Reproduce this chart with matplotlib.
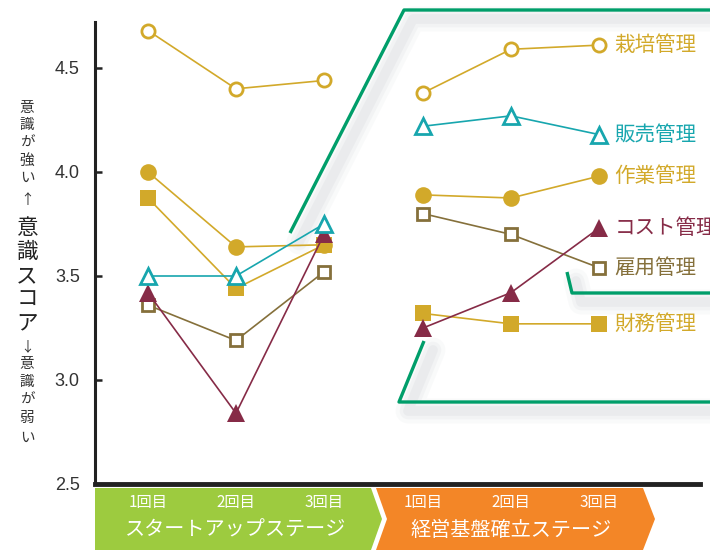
import matplotlib.pyplot as plt
import matplotlib.transforms as mtransforms
from matplotlib.patches import Polygon
import numpy as np

plt.rcParams['font.family'] = ['Noto Sans CJK JP', 'DejaVu Sans']

# data
rounds = ['1回目', '2回目', '3回目']
stages = ['スタートアップステージ', '経営基盤確立ステージ']
series = ['作業管理', '財務管理', '雇用管理', 'コスト管理', '販売管理', '栽培管理']
startup = {
    '栽培管理': [4.68, 4.40, 4.44],
    '販売管理': [3.50, 3.50, 3.75],
    '作業管理': [4.00, 3.64, 3.65],
    'コスト管理': [3.42, 2.84, 3.70],
    '雇用管理': [3.36, 3.19, 3.52],
    '財務管理': [3.875, 3.44, 3.65],
}
established = {
    '栽培管理': [4.38, 4.59, 4.61],
    '販売管理': [4.22, 4.27, 4.18],
    '作業管理': [3.89, 3.875, 3.98],
    'コスト管理': [3.25, 3.42, 3.73],
    '雇用管理': [3.80, 3.70, 3.54],
    '財務管理': [3.32, 3.27, 3.27],
}
yticks = [2.5, 3.0, 3.5, 4.0, 4.5]

gold = '#D2A92A'
teal = '#17A6AE'
maroon = '#862B47'
brown = '#85703B'
styles = {
    '栽培管理': dict(color=gold, marker='o', ms=9.5, mfc='white', mew=2.0),
    '販売管理': dict(color=teal, marker='^', ms=11, mfc='white', mew=2.0),
    '作業管理': dict(color=gold, marker='o', ms=12, mfc=gold, mew=0),
    'コスト管理': dict(color=maroon, marker='^', ms=13, mfc=maroon, mew=0),
    '雇用管理': dict(color=brown, marker='s', ms=8.5, mfc='white', mew=2.0),
    '財務管理': dict(color=gold, marker='s', ms=11, mfc=gold, mew=0),
}

fig = plt.figure(figsize=(7.1, 5.5), dpi=100)

# overlay in pixel coordinates for decorations
ov = fig.add_axes([0, 0, 1, 1], zorder=0)
ov.set_xlim(0, 710)
ov.set_ylim(550, 0)
ov.axis('off')

ax = fig.add_axes([95 / 710, 66 / 550, 605 / 710, 462 / 550], zorder=1)
ax.set_facecolor('none')

x_start = np.arange(3)
x_est = x_start + 3.125

for name in series:
    st = styles[name]
    for xs, vals in ((x_start, startup[name]), (x_est, established[name])):
        ax.plot(xs, vals, color=st['color'], lw=1.2, marker=st['marker'],
                ms=st['ms'], mfc=st['mfc'], mec=st['color'], mew=st['mew'])
    ax.annotate(name, (x_est[-1], established[name][-1]), xytext=(11, 0),
                textcoords='offset points', va='center', ha='left',
                fontsize=14.8, color=st['color'], annotation_clip=False)

ax.set_xlim(-0.602, 6.273)
ax.set_ylim(2.5, 2.5 + 462 / 208)
ax.set_yticks(yticks)
ax.set_yticklabels([f'{t:.1f}' for t in yticks], family='Liberation Sans',
                   fontsize=13, color='#333333')
ax.tick_params(axis='y', direction='in', length=5, width=1.8, pad=11, color='#222222')
ax.set_xticks([])
for s in ['top', 'right']:
    ax.spines[s].set_visible(False)
ax.spines['left'].set_linewidth(2.2)
ax.spines['left'].set_color('#222222')
ax.spines['bottom'].set_linewidth(3.5)
ax.spines['bottom'].set_color('#222222')

# green bracket with soft shadow
bracket = [
    [(290, 233), (404, 10), (712, 10)],
    [(567, 272), (572, 293), (712, 293)],
    [(424, 341), (399, 402), (712, 402)],
]
for pts in bracket:
    px, py = zip(*pts)
    for w, a in ((18, 0.05), (12, 0.07), (7, 0.09)):
        ov.plot(np.array(px) + 9, np.array(py) + 9, color='#9aa3ad', lw=w,
                alpha=a, solid_capstyle='round', solid_joinstyle='round')
    ov.plot(px, py, color='#009E6A', lw=2.4, solid_capstyle='butt')

# bottom stage bands
ov.add_patch(Polygon([(95, 488), (371, 488), (382, 519), (371, 550), (95, 550)],
                     closed=True, color='#9DCB3F', lw=0))
ov.add_patch(Polygon([(376, 488), (643, 488), (655, 519), (643, 550), (376, 550), (387, 519)],
                     closed=True, color='#F38627', lw=0))

mix = mtransforms.blended_transform_factory(ax.transData, ov.transData)
for xs, stage in ((x_start, stages[0]), (x_est, stages[1])):
    for xv, r in zip(xs, rounds):
        ov.text(xv, 503, r, transform=mix, ha='center', va='center',
                color='white', fontsize=11)
    ov.text(xs[1], 530, stage, transform=mix, ha='center', va='center',
            color='white', fontsize=14.5)

# vertical axis caption
upper = ['意', '識', 'が', '強', 'い']
upper_y = [108, 125, 143, 161, 178]
big = ['意', '識', 'ス', 'コ', 'ア']
big_y = [228, 252, 276, 300, 323]
lower = ['意', '識', 'が', '弱', 'い']
lower_y = [364, 382, 400, 418, 438]
for ch, yv in zip(upper, upper_y):
    ov.text(27, yv, ch, ha='center', va='center', fontsize=10.5, color='#333333')
ov.text(27, 200, '↑', ha='center', va='center', fontsize=10, color='#333333')
for ch, yv in zip(big, big_y):
    ov.text(27, yv, ch, ha='center', va='center', fontsize=15.5, color='#222222')
ov.text(27, 347, '↓', ha='center', va='center', fontsize=10, color='#333333')
for ch, yv in zip(lower, lower_y):
    ov.text(27, yv, ch, ha='center', va='center', fontsize=10.5, color='#333333')

fig.savefig('out.png', dpi=100)
